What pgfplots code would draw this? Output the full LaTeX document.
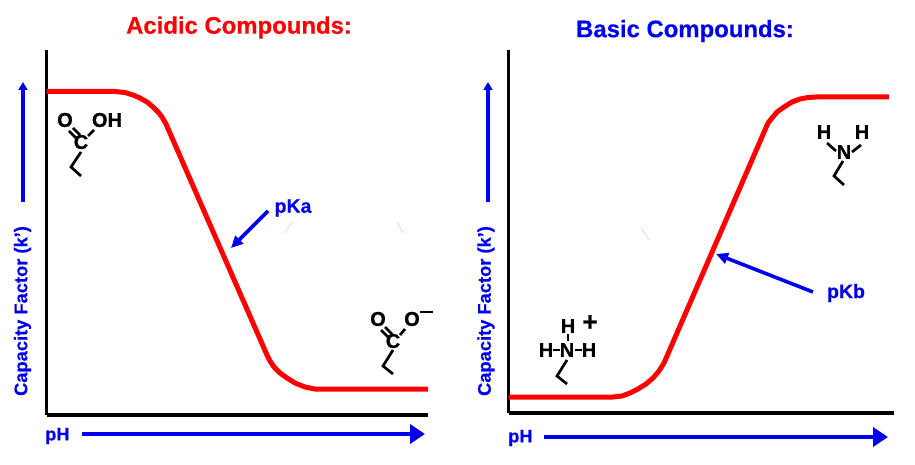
\documentclass[border=0pt]{standalone}
\usepackage{pgfplots}
\pgfplotsset{compat=1.18}
\usepackage{fontspec}
\setmainfont{Liberation Sans}[BoldFeatures={FakeBold=0.3}]
\newfontfamily\heavy{Liberation Sans Bold}[FakeBold=1.0]
\usetikzlibrary{arrows.meta}
\definecolor{curvered}{RGB}{255,0,0}
\definecolor{labelblue}{RGB}{0,0,240}
\definecolor{faint}{RGB}{255,205,205}

\pgfplotsset{panel/.style={
    scale only axis, clip=false,
    axis lines=left, axis line style={-, black, line width=3.2pt},
    ticks=none,
}}
\tikzset{
    lbl/.style={font=\fontsize{18.3}{18.3}\bfseries\selectfont, text=labelblue, inner sep=0pt},
    ttl/.style={font=\fontsize{23.9}{24}\bfseries\selectfont, inner sep=0pt},
    atom/.style={font=\fontsize{20}{20}\heavy, inner sep=0pt},
    bond/.style={line width=2.7pt, black},
    barrow/.style={labelblue, line width=3.6pt, -{Triangle[length=12pt,width=11pt]}},
    bigarrow/.style={labelblue, line width=3.8pt, -{Triangle[length=15pt,width=19pt]}},
    uparrow/.style={labelblue, line width=3.2pt, -{Triangle[length=8pt,width=9pt]}},
}

\begin{document}
\begin{tikzpicture}[x=1pt,y=-1pt]
\path[use as bounding box] (0,0) rectangle (915,465);

% left panel
\begin{axis}[panel, at={(46.5pt,-415pt)}, anchor=origin, width=381pt, height=365pt,
    xmin=0, xmax=381, ymin=0, ymax=365]
\addplot[curvered, line width=5pt, line join=round] coordinates {
  (0,323.5) (68.5,323.5) (78.5,322.5) (86.5,320) (93.5,317) (100.5,313) (106.5,308)
  (111.5,303) (115.5,298) (119.5,291) (220.5,60) (223.5,54) (227.5,48) (233.5,42)
  (240.5,37) (248.5,32) (258.5,28) (268.5,26) (381.5,26)};
\end{axis}

% right panel
\begin{axis}[panel, at={(508.5pt,-413pt)}, anchor=origin, width=385pt, height=363pt,
    xmin=0, xmax=385, ymin=0, ymax=363]
\addplot[curvered, line width=5pt, line join=round] coordinates {
  (0,16) (104.5,16) (113.5,17) (121.5,20) (129.5,24) (137.5,29) (144.5,35) (150.5,42)
  (155.5,50) (259.5,290) (263.5,295) (268.5,301) (275.5,306) (283.5,311) (291.5,314)
  (299.5,315.5) (307.5,316) (380.5,316)};
\end{axis}

% titles
\node[ttl, text=curvered] at (239,27.5) {Acidic Compounds:};
\node[ttl, text=labelblue] at (685,31) {Basic Compounds:};

% axis captions
\node[lbl, rotate=90] at (22.5,311) {Capacity Factor (k')};
\node[lbl, rotate=90] at (486,311) {Capacity Factor (k')};
\draw[uparrow] (23,202) -- (23,82);
\draw[uparrow] (488,202) -- (488,82);
\node[lbl, anchor=west] at (45,436) {pH};
\node[lbl, anchor=west] at (508,438) {pH};
\draw[bigarrow] (82,434) -- (425,434);
\draw[bigarrow] (544,437) -- (888,437);

% pKa / pKb
\node[lbl, font=\fontsize{19.5}{19.5}\bfseries\selectfont] at (293,208) {pKa};
\node[lbl, font=\fontsize{19.5}{19.5}\bfseries\selectfont] at (846,293) {pKb};
\draw[barrow] (268,211) -- (231,248);
\draw[barrow] (813,292) -- (716,254);

% faint marks
\draw[faint, line width=.8pt] (285,233) -- (292,222);
\draw[faint, line width=.8pt] (397,222) -- (403,233);
\draw[faint, line width=.8pt] (641,228) -- (649,240);

% COOH
\node[atom] at (65,120) {O};
\node[atom] at (107,120) {OH};
\node[atom] at (81,142) {C};
\draw[bond] (69,131) -- (76,138) (73,128) -- (80,135);
\draw[bond] (88,136) -- (94,130);
\draw[bond] (81,152) -- (71,167) -- (81,176);

% COO-
\node[atom] at (378,319) {O};
\node[atom] at (412,319) {O};
\node[atom] at (393,341) {C};
\draw[bond] (381,330) -- (388,337) (385,327) -- (392,334);
\draw[bond] (400,335) -- (405,329);
\draw[bond] (420,312) -- (433,312);
\draw[bond] (393,350) -- (383,366) -- (393,374);

% NH3+
\node[atom] at (568,326) {H};
\node[atom] at (546,350) {H};
\node[atom] at (567,350) {N};
\node[atom] at (589,350) {H};
\node[atom, font=\fontsize{26}{26}\heavy] at (590,323) {+};
\draw[bond] (568,334) -- (568,341);
\draw[bond] (553,350) -- (560,350) (575,350) -- (582,350);
\draw[bond] (567,360) -- (557,376) -- (567,384);

% NH2
\node[atom] at (824,132) {H};
\node[atom] at (862,132) {H};
\node[atom] at (844,152) {N};
\draw[bond] (827,143) -- (836,151) (861,145) -- (852,152);
\draw[bond] (843,161) -- (834,176) -- (844,185);
\end{tikzpicture}
\end{document}
